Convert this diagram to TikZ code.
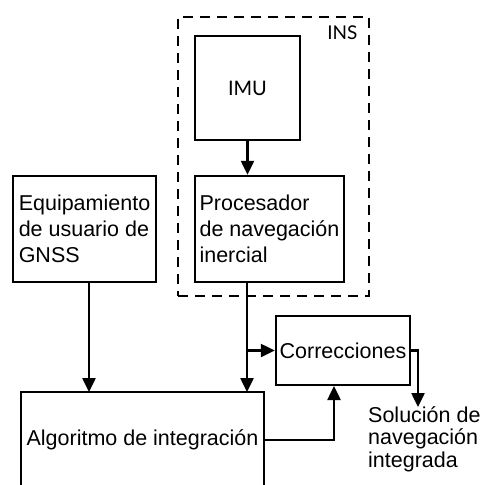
\documentclass[tikz,border=0pt]{standalone}
\usepackage{fontspec}
\setmainfont{Liberation Sans}
\newfontfamily\labelfont{Lato}
\usetikzlibrary{arrows.meta}

\begin{document}
\begin{tikzpicture}[x=1pt, y=-1pt,
  box/.style={draw, line width=2.5pt, inner sep=0pt, font=\fontsize{21.5}{26}\selectfont},
  conn/.style={line width=2.5pt, -{Triangle[length=14pt,width=13pt]}},
  insbox/.style={draw, line width=2.3pt, dash pattern=on 10pt off 7pt, inner sep=0pt}]
  \clip (0,0) rectangle (480,485);
  \fill[white] (0,0) rectangle (480,485);

  % inertial navigation system frame
  \node[insbox, minimum width=191pt, minimum height=279pt] (ins) at (273.5,156.5) {};
  \node[anchor=east, font=\labelfont\fontsize{19}{22}\selectfont] (inslabel) at (361,33) {INS};

  % blocks
  \node[box, minimum width=105pt, minimum height=104pt,
        font=\labelfont\fontsize{20}{24}\selectfont] (imu) at (247.5,88) {IMU};
  \node[box, minimum width=149pt, minimum height=106pt, align=left] (proc) at (269.5,229)
    {Procesador\\de navegación\\inercial};
  \node[box, minimum width=143pt, minimum height=106pt, align=left] (gnss) at (84.5,229)
    {Equipamiento\\de usuario de\\GNSS};
  \node[box, minimum width=243pt, minimum height=96pt] (alg) at (142.5,440)
    {Algoritmo de integración};
  \node[box, minimum width=134pt, minimum height=69pt] (corr) at (343,350.5)
    {Correcciones};
  \node[anchor=north west, align=left, inner sep=0pt,
        font=\fontsize{21.5}{22.5}\selectfont] (sol) at (368,406)
    {Solución de\\navegación\\integrada};

  % connectors
  \coordinate (algout) at (alg.east);
  \coordinate (corrout) at (corr.east);
  \coordinate (soltop) at (418,407);

  \draw[conn] (imu) -- (imu.south |- proc.north);
  \draw[conn] (gnss.south -| 89,0) -- (89,392);
  \draw[conn] (247,282) -- (247,392);
  \draw[conn] (247,350.5) -- (corr.west);
  \draw[conn] (algout) -| (334,386);
  \draw[conn] (corrout) -| (soltop);
\end{tikzpicture}
\end{document}
